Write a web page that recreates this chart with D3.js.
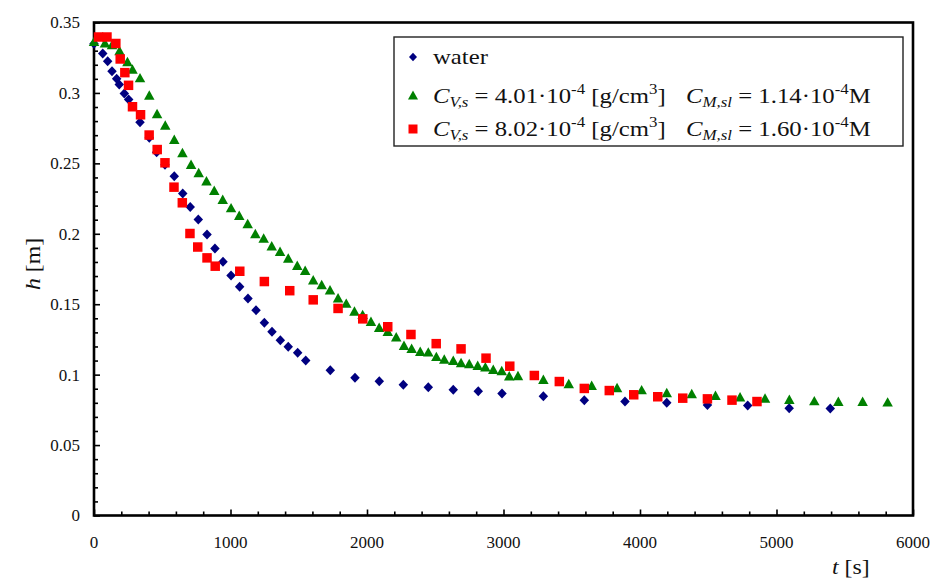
<!DOCTYPE html>
<html>
<head>
<meta charset="utf-8">
<script src="https://cdn.jsdelivr.net/npm/d3@7"></script>
<style>
  html, body { margin: 0; padding: 0; background: #fff; }
  svg { display: block; font-family: "Liberation Serif", "Times New Roman", serif; }
</style>
</head>
<body>
<svg id="chart" width="933" height="578"></svg>
<script>
// Outflow of liquid: column height h [m] versus time t [s]

// water
const waterT = [0, 64, 100, 132, 166, 185, 222, 254, 337, 405, 459, 520, 588, 650, 705, 764, 828, 886, 945, 1004,
  1067, 1128, 1187, 1248, 1304, 1365, 1423, 1492, 1551, 1731, 1912, 2090, 2266, 2449, 2632, 2815, 2989,
  3292, 3592, 3890, 4196, 4494, 4789, 5093, 5394];
const waterH = [0.335, 0.328, 0.3225, 0.3154, 0.310, 0.306, 0.2996, 0.2953, 0.2792, 0.2681, 0.2579, 0.249, 0.2409,
  0.2286, 0.219, 0.2101, 0.1995, 0.1896, 0.1801, 0.1704, 0.1624, 0.1541, 0.1458, 0.1368, 0.1304, 0.1245,
  0.1198, 0.1155, 0.110, 0.1032, 0.0978, 0.0953, 0.0928, 0.0911, 0.0892, 0.0882, 0.0866, 0.0847, 0.0819,
  0.0809, 0.080, 0.0784, 0.0781, 0.0762, 0.076];

// C_V,s = 4.01e-4 g/cm3
const lowT = [0, 80, 132, 187, 245, 282, 337, 405, 462, 522, 588, 648, 711, 767, 824, 881, 943, 1004, 1064, 1126,
  1182, 1243, 1302, 1363, 1423, 1489, 1547, 1606, 1668, 1729, 1788, 1848, 1908, 1968, 2029, 2089, 2152,
  2214, 2271, 2327, 2390, 2449, 2508, 2566, 2632, 2689, 2749, 2811, 2867, 2925, 2987, 3042, 3106, 3292,
  3478, 3646, 3832, 4012, 4196, 4379, 4553, 4733, 4916, 5094, 5277, 5453, 5631, 5814];
const lowH = [0.336, 0.335, 0.3337, 0.3294, 0.3216, 0.3163, 0.3102, 0.2978, 0.2847, 0.2765, 0.2664, 0.257, 0.2487,
  0.2428, 0.237, 0.2302, 0.2238, 0.2179, 0.2125, 0.2066, 0.1995, 0.1964, 0.1908, 0.1869, 0.1822, 0.177,
  0.1734, 0.1667, 0.1633, 0.1596, 0.1539, 0.1501, 0.1445, 0.1421, 0.1372, 0.133, 0.1301, 0.1262, 0.1202,
  0.1181, 0.1159, 0.1155, 0.1123, 0.1105, 0.1095, 0.1079, 0.1072, 0.106, 0.1049, 0.1032, 0.1022, 0.0985,
  0.0987, 0.0961, 0.093, 0.0918, 0.0902, 0.0887, 0.0866, 0.0859, 0.0847, 0.0836, 0.0828, 0.0819, 0.0809,
  0.0804, 0.0804, 0.080];

// C_V,s = 8.02e-4 g/cm3
const highT = [33, 95, 160, 192, 226, 253, 282, 341, 404, 463, 520, 586, 647, 703, 760, 828, 888, 1068, 1248, 1434,
  1606, 1788, 1969, 2152, 2322, 2507, 2689, 2872, 3046, 3226, 3409, 3592, 3775, 3954, 4130, 4313, 4494,
  4674, 4857];
const highH = [0.3397, 0.3397, 0.3351, 0.3241, 0.3144, 0.3054, 0.2902, 0.2845, 0.2701, 0.2598, 0.2504, 0.2331,
  0.222, 0.2002, 0.1906, 0.1829, 0.177, 0.1734, 0.1661, 0.1596, 0.1531, 0.147, 0.1396, 0.134, 0.1285,
  0.122, 0.1183, 0.1117, 0.106, 0.0994, 0.0951, 0.0902, 0.0887, 0.0857, 0.0843, 0.0833, 0.0828, 0.0819,
  0.0809];

const xTicks = [0, 1000, 2000, 3000, 4000, 5000, 6000];
const yTicks = [0, 0.05, 0.1, 0.15, 0.2, 0.25, 0.3, 0.35];
const yTickLabels = ["0", "0.05", "0.1", "0.15", "0.2", "0.25", "0.3", "0.35"];

const svg = d3.select("#chart");
const W = 933, H = 578;
const plot = { left: 94, right: 913, top: 22.5, bottom: 515.5 };

const x = d3.scaleLinear().domain([0, 6000]).range([plot.left, plot.right]);
const y = d3.scaleLinear().domain([0, 0.35]).range([plot.bottom, plot.top]);

svg.append("rect").attr("width", W).attr("height", H).attr("fill", "#fff");

// minor + major ticks, pointing into the plot
const xMinor = d3.range(0, 6001, 200);
const yMinor = d3.range(0, 36).map(i => i / 100);

const xAxis = d3.axisBottom(x).tickValues(xMinor).tickSize(-4).tickFormat("");
svg.append("g").attr("transform", `translate(0,${plot.bottom})`).call(xAxis)
  .call(g => g.select(".domain").remove())
  .call(g => g.selectAll("line").attr("stroke", "#000").attr("stroke-width", 1.6)
    .attr("y2", d => (d % 1000 === 0 ? -6 : -4)));

const yAxis = d3.axisLeft(y).tickValues(yMinor).tickSize(-4).tickFormat("");
svg.append("g").attr("transform", `translate(${plot.left},0)`).call(yAxis)
  .call(g => g.select(".domain").remove())
  .call(g => g.selectAll("line").attr("stroke", "#000").attr("stroke-width", 1.6)
    .attr("x2", (d, i) => (i % 5 === 0 ? 6 : 4)));

// tick labels
svg.append("g").selectAll("text").data(xTicks).join("text")
  .attr("x", d => x(d)).attr("y", 548)
  .attr("text-anchor", "middle").attr("font-size", 17).attr("fill", "#111")
  .text(d => d);

svg.append("g").selectAll("text").data(yTicks).join("text")
  .attr("x", 80).attr("y", d => y(d)).attr("dy", "0.35em")
  .attr("text-anchor", "end").attr("font-size", 17).attr("fill", "#111")
  .text((d, i) => yTickLabels[i]);

// plot frame
svg.append("rect")
  .attr("x", plot.left).attr("y", plot.top)
  .attr("width", plot.right - plot.left).attr("height", plot.bottom - plot.top)
  .attr("fill", "none").attr("stroke", "#000").attr("stroke-width", 2.6);

// marker shapes
const diamond = { draw(ctx, s) { const r = s; ctx.moveTo(0, -r); ctx.lineTo(r * 0.95, 0); ctx.lineTo(0, r); ctx.lineTo(-r * 0.95, 0); ctx.closePath(); } };
const triangle = { draw(ctx, s) { const w = s, h = s * 0.9; ctx.moveTo(0, -h * 0.6); ctx.lineTo(w / 2, h * 0.4); ctx.lineTo(-w / 2, h * 0.4); ctx.closePath(); } };
const square = { draw(ctx, s) { const r = s / 2; ctx.rect(-r, -r, s, s); } };

const series = [
  { t: waterT, h: waterH, type: diamond, size: 5, color: "#000080" },
  { t: lowT, h: lowH, type: triangle, size: 10.5, color: "#008000" },
  { t: highT, h: highH, type: square, size: 9.5, color: "#ff0000" }
];

series.forEach(s => {
  const pts = s.t.map((t, i) => [t, s.h[i]]);
  svg.append("g").selectAll("path").data(pts).join("path")
    .attr("transform", d => `translate(${x(d[0])},${y(d[1])})`)
    .attr("d", d3.symbol().type(s.type).size(s.size))
    .attr("fill", s.color);
});

// axis titles
svg.append("text")
  .attr("transform", "translate(40,264) rotate(-90) scale(1.08,1)")
  .attr("text-anchor", "middle").attr("font-size", 22).attr("fill", "#111")
  .call(t => {
    t.append("tspan").attr("font-style", "italic").text("h");
    t.append("tspan").text(" [m]");
  });

svg.append("text")
  .attr("transform", "translate(832,574) scale(1.08,1)")
  .attr("font-size", 22).attr("fill", "#111")
  .call(t => {
    t.append("tspan").attr("font-style", "italic").text("t");
    t.append("tspan").text(" [s]");
  });

// legend
const lg = svg.append("g");
lg.append("rect")
  .attr("x", 394).attr("y", 37).attr("width", 509).attr("height", 109)
  .attr("fill", "#fff").attr("stroke", "#222").attr("stroke-width", 1.4);

const legendRows = [
  { y: 57, type: diamond, size: 4.2, color: "#000080" },
  { y: 96, type: triangle, size: 10, color: "#008000", cv: "4.01", cm: "1.14" },
  { y: 129, type: square, size: 9, color: "#ff0000", cv: "8.02", cm: "1.60" }
];

const stretch = 1.125;

legendRows.forEach(r => {
  lg.append("path")
    .attr("transform", `translate(413,${r.y})`)
    .attr("d", d3.symbol().type(r.type).size(r.size))
    .attr("fill", r.color);
  if (!r.cv) {
    lg.append("text").attr("transform", `translate(433,${r.y}) scale(${stretch},1)`).attr("dy", "0.3em")
      .attr("font-size", 22).attr("fill", "#111").text("water");
    return;
  }
  const t1 = lg.append("text").attr("transform", `translate(433,${r.y + 7}) scale(${stretch},1)`)
    .attr("font-size", 22).attr("fill", "#111");
  t1.append("tspan").attr("font-style", "italic").text("C");
  t1.append("tspan").attr("font-style", "italic").attr("font-size", 15).attr("dy", 4).text("V,s");
  t1.append("tspan").attr("dy", -4).text(" = " + r.cv + "·10");
  t1.append("tspan").attr("font-size", 15).attr("dy", -9).text("-4");
  t1.append("tspan").attr("dy", 9).text(" [g/cm");
  t1.append("tspan").attr("font-size", 15).attr("dy", -9).text("3");
  t1.append("tspan").attr("dy", 9).text("]");

  const t2 = lg.append("text").attr("transform", `translate(686,${r.y + 7}) scale(${stretch},1)`)
    .attr("font-size", 22).attr("fill", "#111");
  t2.append("tspan").attr("font-style", "italic").text("C");
  t2.append("tspan").attr("font-style", "italic").attr("font-size", 15).attr("dy", 4).text("M,sl");
  t2.append("tspan").attr("dy", -4).text(" = " + r.cm + "·10");
  t2.append("tspan").attr("font-size", 15).attr("dy", -9).text("-4");
  t2.append("tspan").attr("dy", 9).text("M");
});
</script>
</body>
</html>
